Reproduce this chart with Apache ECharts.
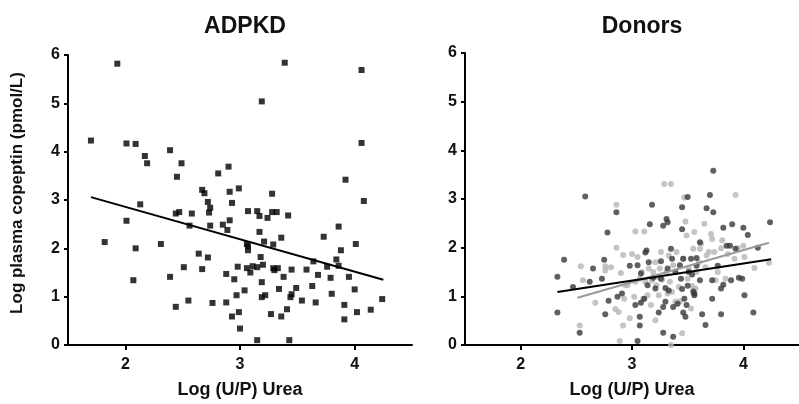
<!DOCTYPE html>
<html>
<head>
<meta charset="utf-8">
<script src="https://cdn.jsdelivr.net/npm/echarts@6/dist/echarts.min.js"></script>
<style>
  html, body { margin: 0; padding: 0; background: #fff; }
  #chart { width: 799px; height: 404px; }
</style>
</head>
<body>
<div id="chart"></div>
<script>
// Panel titles and axis text
const panelTitles = ['ADPKD', 'Donors'];
const xAxisName = 'Log (U/P) Urea';
const yAxisName = 'Log plasma copeptin (pmol/L)';
const xTicks = [2, 3, 4];

// ADPKD patients: [log U/P urea, log copeptin]
const adpkdPoints = [
  [1.70,4.23],[1.93,5.82],[1.82,2.13],[2.01,4.17],[2.09,4.16],[2.01,2.57],[2.13,2.91],[2.09,2.00],
  [2.07,1.34],[2.17,3.91],[2.19,3.76],[2.31,2.09],[2.39,4.03],[2.39,1.41],[2.45,3.48],[2.44,2.72],
  [2.47,2.75],[2.49,3.76],[2.51,1.61],[2.44,0.79],[2.55,0.92],[2.58,2.72],[2.56,2.47],[2.64,1.89],
  [2.67,1.57],[2.72,1.81],[2.67,3.21],[2.69,3.14],[2.72,2.96],[2.74,2.84],[2.73,2.74],[2.74,2.47],
  [2.76,0.87],[2.81,3.55],[2.85,2.49],[2.89,2.38],[2.91,2.58],[2.88,1.47],[2.88,0.88],[2.90,3.69],
  [2.91,3.17],[2.93,2.94],[2.95,1.36],[2.97,1.03],[2.98,1.62],[2.99,3.24],[2.99,0.68],[2.93,0.59],
  [3.00,0.34],[3.04,1.13],[3.07,2.77],[3.06,2.09],[3.07,2.04],[3.07,1.96],[3.06,1.59],[3.09,1.50],
  [3.11,1.63],[3.15,1.61],[3.15,2.77],[3.17,2.67],[3.17,2.34],[3.18,1.82],[3.20,1.66],[3.21,2.14],
  [3.19,5.04],[3.19,1.30],[3.19,0.99],[3.22,1.03],[3.24,2.63],[3.28,2.75],[3.28,3.13],[3.29,2.08],
  [3.32,2.75],[3.29,1.59],[3.30,1.55],[3.33,1.59],[3.27,0.64],[3.34,1.16],[3.36,2.22],[3.36,0.59],
  [3.38,1.41],[3.39,5.84],[3.41,0.74],[3.42,2.68],[3.45,1.56],[3.45,1.05],[3.44,0.99],[3.49,1.18],
  [3.15,0.10],[3.43,0.10],[3.54,0.92],[3.58,1.56],[3.63,1.22],[3.64,1.73],[3.66,0.88],[3.68,1.45],
  [3.73,2.24],[3.76,1.62],[3.79,1.39],[3.80,1.06],[3.84,1.77],[3.86,2.45],[3.86,1.64],[3.88,1.96],
  [3.91,0.83],[3.91,0.53],[3.92,3.42],[3.95,1.41],[4.00,1.15],[4.01,2.09],[4.02,0.68],[4.06,5.69],
  [4.06,4.18],[4.08,2.98],[4.14,0.73],[4.24,0.95]
];
const adpkdFit = [[1.70,3.06],[4.25,1.35]];

// Donors, dark group
const donorsDark = [
  [2.33,1.40],[2.33,0.67],[2.39,1.75],[2.47,1.19],[2.53,0.25],[2.58,3.05],[2.62,1.30],[2.65,1.57],
  [2.73,1.36],[2.75,1.75],[2.76,0.63],[2.78,2.31],[2.79,0.91],[2.86,2.73],[2.87,0.99],[2.91,1.06],
  [2.98,1.63],[3.03,0.82],[3.05,1.64],[3.05,0.08],[3.07,0.58],[3.07,0.40],[3.08,0.87],[3.08,1.47],
  [3.11,0.95],[3.12,1.90],[3.13,1.94],[3.14,1.23],[3.15,1.70],[3.16,2.48],[3.18,2.88],[3.21,1.16],
  [3.24,0.67],[3.26,1.72],[3.26,1.36],[3.28,2.45],[3.28,0.25],[3.28,0.78],[3.31,2.59],[3.32,2.52],
  [3.33,1.12],[3.35,1.98],[3.36,1.77],[3.37,0.17],[3.37,0.78],[3.39,1.50],[3.41,0.85],[3.43,1.64],
  [3.44,1.36],[3.45,2.38],[3.45,2.83],[3.46,1.77],[3.46,0.67],[3.47,0.95],[3.48,0.58],[3.49,0.82],
  [3.50,3.04],[3.50,1.22],[3.51,1.50],[3.53,1.77],[3.54,1.45],[3.55,1.10],[3.56,1.02],[3.56,1.06],
  [3.58,1.63],[3.58,1.79],[3.61,2.11],[3.61,1.33],[3.63,0.63],[3.66,0.41],[3.67,2.81],[3.70,3.08],
  [3.72,1.33],[3.72,0.95],[3.73,2.73],[3.73,3.58],[3.77,1.63],[3.80,1.16],[3.80,0.63],[3.82,1.24],
  [3.82,2.41],[3.85,2.04],[3.88,2.04],[3.89,1.33],[3.90,2.48],[3.93,1.98],[3.96,1.38],[3.99,1.36],
  [4.00,2.41],[4.01,1.02],[4.04,2.26],[4.09,0.67],[4.13,2.00],[4.24,2.52],[3.19,1.38],[3.30,1.17],
  [3.32,1.57],[3.45,1.15],[3.30,0.89]
];
const donorsDarkFit = [[2.33,1.09],[4.25,1.76]];

// Donors, light group
const donorsLight = [
  [2.53,0.40],[2.54,1.62],[2.56,1.33],[2.67,0.87],[2.76,1.62],[2.76,1.53],[2.81,1.60],[2.86,2.88],
  [2.86,2.00],[2.85,0.74],[2.88,0.68],[2.89,0.08],[2.92,1.85],[2.90,1.48],[2.92,0.40],[2.93,0.95],
  [2.94,1.23],[2.96,1.23],[2.98,0.55],[3.00,1.87],[3.02,0.99],[3.03,1.30],[3.03,2.33],[3.05,1.81],
  [3.07,1.36],[3.09,1.50],[3.10,0.95],[3.11,2.33],[3.12,1.30],[3.14,1.02],[3.15,1.57],[3.17,0.82],
  [3.18,1.33],[3.19,1.50],[3.21,0.51],[3.21,1.70],[3.22,1.23],[3.23,1.40],[3.24,1.02],[3.25,1.57],
  [3.26,1.91],[3.27,1.34],[3.29,3.31],[3.35,3.31],[3.31,1.50],[3.32,1.06],[3.33,1.84],[3.34,1.30],
  [3.35,0.00],[3.36,1.09],[3.37,1.64],[3.39,0.89],[3.40,1.91],[3.42,1.19],[3.43,0.90],[3.45,0.24],
  [3.46,1.77],[3.47,3.03],[3.48,2.54],[3.49,2.25],[3.50,1.36],[3.51,1.57],[3.53,0.75],[3.54,1.21],
  [3.55,1.98],[3.56,2.32],[3.57,1.16],[3.58,1.50],[3.60,1.70],[3.61,1.98],[3.62,2.08],[3.65,2.49],
  [3.66,1.60],[3.67,1.84],[3.69,1.91],[3.71,2.28],[3.72,2.18],[3.74,1.91],[3.75,1.33],[3.77,1.50],
  [3.80,1.99],[3.81,2.15],[3.84,1.36],[3.86,1.87],[3.92,1.77],[3.93,3.08],[3.95,1.99],[4.00,2.04],
  [4.01,1.81],[4.10,1.58],[4.23,1.69]
];
const donorsLightFit = [[2.51,0.97],[4.23,2.10]];

const FONT = 'Liberation Sans, Arial, sans-serif';

function makeXAxis(gridIndex) {
  return {
    type: 'value', gridIndex, min: 1.5, max: 4.5,
    name: xAxisName, nameLocation: 'middle', nameGap: 36,
    nameTextStyle: { fontFamily: FONT, fontWeight: 'bold', fontSize: 18, color: '#111' },
    axisLine: { show: true, onZero: false, lineStyle: { color: '#000', width: 2 } },
    axisTick: { show: true, length: 5, lineStyle: { color: '#000', width: 2 }, customValues: xTicks },
    axisLabel: { fontFamily: FONT, fontWeight: 'bold', fontSize: 16, color: '#111', margin: 12, customValues: xTicks },
    splitLine: { show: false }
  };
}
function makeYAxis(gridIndex, withName) {
  return {
    type: 'value', gridIndex, min: 0, max: 6, interval: 1,
    name: withName ? yAxisName : '', nameLocation: 'middle', nameGap: 42,
    nameTextStyle: { fontFamily: FONT, fontWeight: 'bold', fontSize: 17, color: '#111', padding: [0, 0, 0, 14] },
    axisLine: { show: true, onZero: false, lineStyle: { color: '#000', width: 2 } },
    axisTick: { show: true, length: 4, lineStyle: { color: '#000', width: 2 } },
    axisLabel: { fontFamily: FONT, fontWeight: 'bold', fontSize: 16, color: '#111', margin: 8 },
    splitLine: { show: false }
  };
}

const chart = echarts.init(document.getElementById('chart'), null, { renderer: 'canvas' });
chart.setOption({
  animation: false,
  backgroundColor: '#fff',
  title: [
    { text: panelTitles[0], left: 240, top: 10, textAlign: 'center',
      textStyle: { fontFamily: FONT, fontWeight: 'bold', fontSize: 23, color: '#111' } },
    { text: panelTitles[1], left: 637, top: 10, textAlign: 'center',
      textStyle: { fontFamily: FONT, fontWeight: 'bold', fontSize: 23, color: '#111' } }
  ],
  grid: [
    { left: 68, top: 55, width: 344, height: 294 },
    { left: 465, top: 53, width: 344, height: 293 }
  ],
  xAxis: [makeXAxis(0), makeXAxis(1)],
  yAxis: [makeYAxis(0, true), makeYAxis(1, false)],
  series: [
    { type: 'scatter', xAxisIndex: 0, yAxisIndex: 0, data: adpkdPoints,
      symbol: 'rect', symbolSize: 6, itemStyle: { color: '#000' } },
    { type: 'line', xAxisIndex: 0, yAxisIndex: 0, data: adpkdFit, symbol: 'none', z: 5,
      lineStyle: { color: '#000', width: 2 } },
    { type: 'scatter', xAxisIndex: 1, yAxisIndex: 1, data: donorsLight,
      symbol: 'circle', symbolSize: 6, itemStyle: { color: '#b5b5b5' } },
    { type: 'scatter', xAxisIndex: 1, yAxisIndex: 1, data: donorsDark,
      symbol: 'circle', symbolSize: 6, itemStyle: { color: '#383838' } },
    { type: 'line', xAxisIndex: 1, yAxisIndex: 1, data: donorsLightFit, symbol: 'none', z: 5,
      lineStyle: { color: '#9a9a9a', width: 2 } },
    { type: 'line', xAxisIndex: 1, yAxisIndex: 1, data: donorsDarkFit, symbol: 'none', z: 6,
      lineStyle: { color: '#000', width: 2 } }
  ]
});
</script>
</body>
</html>
